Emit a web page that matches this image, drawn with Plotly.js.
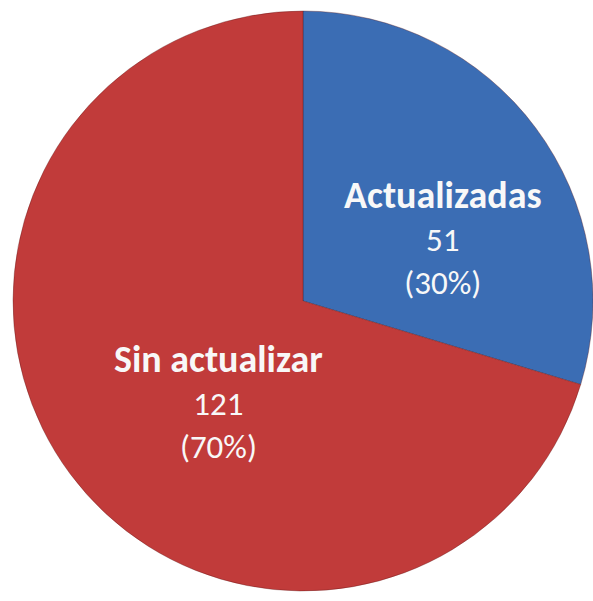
<!DOCTYPE html>
<html>
<head>
<meta charset="utf-8">
<script src="https://cdn.plot.ly/plotly-3.0.1.min.js"></script>
<style>html,body{margin:0;padding:0;background:#fff;}#chart{width:593px;height:601px;}</style>
</head>
<body>
<div id="chart"></div>
<script>
const labels = ["Actualizadas", "Sin actualizar"];
const values = [51, 121];
const colors = ["#3B6DB4", "#C13B3A"];

const total = values.reduce((a, b) => a + b, 0);
const pct = values.map(v => Math.round(100 * v / total) + "%");

// label block centres (pixels from top-left) for each slice
const labelPos = [
  {x: 443, y: 237},
  {x: 218, y: 401}
];
const font = "Calibri, Carlito, 'Open Sans', sans-serif";
const annotations = labels.map((lab, i) => ({
  text: "<span style='font-size:38px'><b>" + lab + "</b></span><br>" +
        values[i] + "<br>(" + pct[i] + ")",
  xref: "paper", yref: "paper",
  x: labelPos[i].x / 593, y: 1 - labelPos[i].y / 601,
  xanchor: "center", yanchor: "middle", showarrow: false, align: "center",
  font: {family: font, size: 33, color: "#F8F8F8"}
}));

const trace = {
  type: "pie",
  labels: labels,
  values: values,
  sort: false,
  direction: "clockwise",
  rotation: 0,
  textinfo: "none",
  hoverinfo: "label+value+percent",
  marker: {colors: colors, line: {color: "rgba(90,20,20,0.35)", width: 1}},
  domain: {x: [13 / 593, 593 / 593], y: [10 / 601, 590 / 601]},
  showlegend: false
};

Plotly.newPlot("chart", [trace], {
  width: 593, height: 601,
  margin: {l: 0, r: 0, t: 0, b: 0},
  paper_bgcolor: "#FFFFFF",
  showlegend: false,
  annotations: annotations
}, {staticPlot: true});
</script>
</body>
</html>
